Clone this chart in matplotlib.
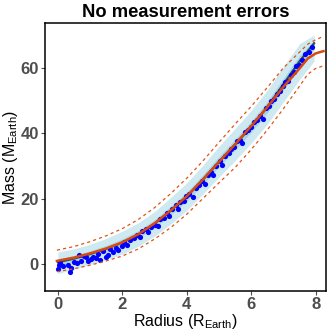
import matplotlib
matplotlib.use('Agg')
import matplotlib.pyplot as plt

plt.rcParams['font.family'] = ['Liberation Sans', 'DejaVu Sans']
plt.rcParams['mathtext.fontset'] = 'custom'
plt.rcParams['mathtext.rm'] = 'Liberation Sans'

# true relation (dark line) and light blue sample cloud
true_r = [0.0, 0.5, 1.0, 1.5, 2.0, 2.5, 3.0, 3.5, 4.0, 4.5, 5.0, 5.5, 6.0, 6.5, 7.0, 7.5, 7.95]
true_m = [0.5, 1.6, 3.0, 4.6, 6.5, 9.0, 12.3, 16.3, 20.6, 25.8, 31.3, 36.5, 42.0, 48.0, 55.0, 62.0, 67.5]
cloud_lo = [-3.0, -1.6, -0.2, 1.3, 3.0, 5.4, 8.5, 12.2, 16.4, 21.4, 26.6, 31.6, 37.0, 42.8, 49.6, 56.4, 62.0]
cloud_hi = [3.6, 4.6, 6.0, 7.8, 10.0, 12.6, 16.0, 20.3, 24.8, 30.2, 36.0, 41.4, 47.0, 53.2, 60.4, 67.4, 70.0]

# fitted relation (red) and its dashed band
fit_r = [-0.03, 0.5, 1.0, 1.5, 2.0, 2.5, 3.0, 3.5, 4.0, 4.5, 5.0, 5.5, 6.0, 6.5, 7.0, 7.5, 7.75, 8.0, 8.24]
fit_m = [0.9, 1.9, 3.2, 4.7, 6.6, 9.1, 12.4, 16.3, 20.7, 25.8, 31.2, 36.6, 42.2, 48.0, 54.2, 59.8, 62.8, 64.4, 65.1]
fit_hi = [4.2, 5.3, 6.8, 8.6, 10.8, 13.6, 17.2, 21.5, 26.2, 31.5, 37.2, 42.8, 48.2, 54.0, 60.0, 64.8, 67.2, 68.6, 69.6]
fit_lo = [-2.4, -1.5, -0.4, 0.9, 2.4, 4.6, 7.6, 11.1, 15.2, 20.0, 24.8, 29.5, 35.0, 41.0, 47.5, 54.4, 58.0, 59.8, 60.6]

# simulated planets
radius = [0.00, 0.03, 0.08, 0.15, 0.30, 0.38, 0.42, 0.50, 0.58, 0.65, 0.72, 0.80, 0.88, 0.95,
          1.02, 1.10, 1.18, 1.25, 1.32, 1.40, 1.48, 1.55, 1.62, 1.70, 1.80, 1.88, 1.98, 2.05,
          2.15, 2.25, 2.35, 2.45, 2.55, 2.62, 2.72, 2.80, 2.90, 3.00, 3.10, 3.18, 3.28, 3.38,
          3.45, 3.55, 3.65, 3.72, 3.80, 3.90, 3.98, 4.08, 4.18, 4.28, 4.38, 4.48, 4.55, 4.65,
          4.75, 4.82, 4.92, 5.02, 5.10, 5.20, 5.30, 5.38, 5.48, 5.55, 5.65, 5.72, 5.82, 5.90,
          6.00, 6.08, 6.18, 6.28, 6.35, 6.45, 6.55, 6.62, 6.72, 6.80, 6.90, 6.98, 7.05, 7.15,
          7.22, 7.32, 7.40, 7.48, 7.58, 7.68, 7.78, 7.88]
mass = [-1.6, -0.4, 0.4, -0.8, -0.2, -2.4, -1.3, 0.6, 0.2, 2.8, 1.0, 2.5, 2.1, 0.9,
        1.6, 2.1, 1.7, 3.0, 1.2, 3.9, 2.2, 2.8, 4.6, 3.5, 5.0, 4.3, 5.6, 6.8,
        5.9, 7.4, 7.9, 8.9, 8.2, 10.0, 10.6, 9.9, 11.4, 12.0, 11.6, 13.6, 14.1, 15.5,
        14.6, 16.8, 17.9, 16.9, 18.9, 19.3, 20.7, 21.3, 20.6, 23.1, 24.0, 25.3, 24.5, 27.2,
        28.0, 27.1, 30.0, 31.4, 30.3, 33.0, 33.9, 35.2, 35.8, 37.5, 38.0, 37.1, 40.2, 41.0,
        41.8, 43.4, 44.0, 45.1, 44.2, 47.6, 48.2, 49.9, 50.6, 52.0, 52.8, 54.3, 55.5, 56.1,
        57.9, 58.6, 60.4, 61.0, 62.3, 64.2, 64.8, 66.5]

fig = plt.figure(figsize=(3.32, 3.32), dpi=100)
ax = fig.add_axes([0.1355, 0.1235, 0.8465, 0.8072])

ax.fill_between(true_r, cloud_lo, cloud_hi, color='#cfe9f1', lw=0)
ax.fill_between(true_r, [(a + 2 * b) / 3 for a, b in zip(cloud_lo, true_m)],
                [(a + 2 * b) / 3 for a, b in zip(cloud_hi, true_m)], color='#a8d4e4', lw=0)
ax.plot(true_r, true_m, color='#2f4f4f', lw=1.6, zorder=3)
ax.scatter(radius, mass, s=14, color='#0000ff', lw=0, zorder=4)
ax.plot(fit_r, fit_m, color='#d9480f', lw=1.8, zorder=5)
ax.plot(fit_r, fit_hi, color='#e0531a', lw=0.9, ls=(0, (2.5, 2.5)), zorder=5)
ax.plot(fit_r, fit_lo, color='#e0531a', lw=0.9, ls=(0, (2.5, 2.5)), zorder=5)

ax.set_xlim(-0.4, 8.32)
ax.set_ylim(-8.3, 73.7)
ax.set_xticks([0, 2, 4, 6, 8])
ax.set_yticks([0, 20, 40, 60])
ax.tick_params(length=3, width=0.8, pad=1.5, color='#4d4d4d', labelcolor='#4d4d4d', labelsize=12)
for lab in ax.get_xticklabels() + ax.get_yticklabels():
    lab.set_fontweight('bold')
for sp in ax.spines.values():
    sp.set_linewidth(1.1)
    sp.set_color('black')

ax.set_title('No measurement errors', fontsize=13.2, fontweight='bold', pad=4)
ax.set_xlabel(r'Radius (R$_{\mathrm{Earth}}$)', fontsize=11.5, labelpad=0)
ax.set_ylabel(r'Mass (M$_{\mathrm{Earth}}$)', fontsize=11.5, labelpad=0)

fig.savefig('out.png', dpi=100)
